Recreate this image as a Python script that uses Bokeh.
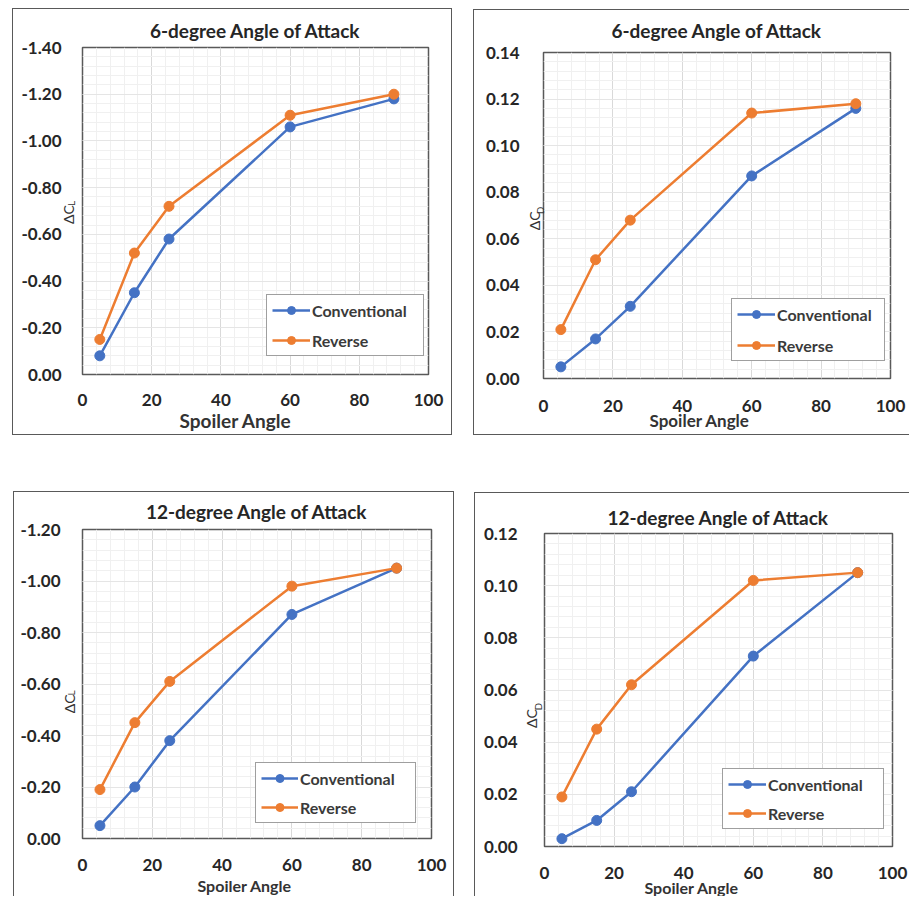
import numpy as np
from bokeh.plotting import figure
from bokeh.models import (Range1d, FixedTicker, NumeralTickFormatter, Title, Grid,
                          LinearAxis, Legend, LegendItem, Spacer)
from bokeh.layouts import column, row
from bokeh.embed import file_html
from bokeh.resources import INLINE

# ---------------- data ----------------
spoiler_angle = [5, 15, 25, 60, 90]
x_ticks = [0, 20, 40, 60, 80, 100]

cl6_conventional = [-0.08, -0.35, -0.58, -1.06, -1.18]
cl6_reverse = [-0.15, -0.52, -0.72, -1.11, -1.20]

cd6_conventional = [0.005, 0.017, 0.031, 0.087, 0.116]
cd6_reverse = [0.021, 0.051, 0.068, 0.114, 0.118]

cl12_conventional = [-0.05, -0.20, -0.38, -0.87, -1.05]
cl12_reverse = [-0.19, -0.45, -0.61, -0.98, -1.05]

cd12_conventional = [0.003, 0.010, 0.021, 0.073, 0.105]
cd12_reverse = [0.019, 0.045, 0.062, 0.102, 0.105]

series_names = ["Conventional", "Reverse"]
title_6 = "6-degree Angle of Attack"
title_12 = "12-degree Angle of Attack"
x_title = "Spoiler Angle"
y_title = "\u0394C"

BLUE = "#4472C4"
ORANGE = "#ED7D31"
FONT = "Lato"
TXT = "#262626"
NB = "\u00a0"


def quiet(ax):
    ax.axis_line_color = None
    ax.major_tick_line_color = None
    ax.minor_tick_line_color = None
    ax.major_tick_out = 0
    ax.minor_tick_out = 0
    ax.major_tick_in = 0
    ax.minor_tick_in = 0


def label_axis(text, size, standoff):
    ax = LinearAxis(ticker=FixedTicker(ticks=[], minor_ticks=[]),
                    axis_label=text, axis_label_standoff=standoff,
                    axis_label_text_font=FONT, axis_label_text_font_size=size,
                    axis_label_text_font_style="normal",
                    axis_label_text_color="#333333", major_label_standoff=0)
    quiet(ax)
    return ax


def make_panel(cfg):
    W, H = cfg["W"], cfg["H"]
    ml, mr, mt, mb = cfg["m"]
    y0, y1, ystep = cfg["yr"]
    p = figure(width=W, height=H, x_range=Range1d(0, 100), y_range=Range1d(y0, y1),
               y_axis_location=None,
               output_backend="svg", toolbar_location=None,
               min_border_left=ml, min_border_right=mr,
               min_border_top=mt, min_border_bottom=mb,
               background_fill_color="white", border_fill_color="white")
    p.styles = cfg["styles"]

    # ticks
    sgn = 1 if y1 > y0 else -1
    nmaj = int(round(abs(y1 - y0) / ystep))
    yt = [round(y0 + sgn * i * ystep, 4) for i in range(nmaj + 1)]
    ymin = [round(y0 + sgn * i * ystep / 5, 5) for i in range(nmaj * 5 + 1)]
    xmin = list(range(0, 101, 4))
    yticker = FixedTicker(ticks=yt, minor_ticks=ymin)
    p.xaxis.ticker = FixedTicker(ticks=x_ticks, minor_ticks=xmin)

    # y axis title: subscript nearest the frame, then "ΔC", then tick labels
    ya = cfg["yaxis"]
    p.add_layout(label_axis(ya["sub"], "10px", ya["sA"]), "left")
    p.add_layout(label_axis(ya["main"], "14px", ya["sB"]), "left")
    yaxis = LinearAxis(ticker=yticker, formatter=NumeralTickFormatter(format="0.00"),
                       major_label_standoff=ya["sC"])
    p.add_layout(yaxis, "left")
    p.add_layout(Grid(dimension=1, ticker=yticker))

    for ax in (p.xaxis[0], yaxis):
        quiet(ax)
        ax.major_label_text_font = FONT
        ax.major_label_text_font_style = "bold"
        ax.major_label_text_font_size = "17px"
        ax.major_label_text_color = TXT
    p.xaxis.major_label_standoff = cfg["xstand"]

    for g in (p.xgrid[0], p.ygrid[0]):
        g.grid_line_color = "#d9d9d9"
        g.grid_line_width = 1
        g.minor_grid_line_color = "#f0f0f0"
        g.minor_grid_line_width = 1

    p.outline_line_color = "#595959"
    p.outline_line_width = 1.5

    conv, rev = cfg["data"]
    l1 = p.line(spoiler_angle, conv, line_color=BLUE, line_width=2.5)
    s1 = p.scatter(spoiler_angle, conv, size=10, fill_color=BLUE, line_color=BLUE)
    l2 = p.line(spoiler_angle, rev, line_color=ORANGE, line_width=2.5)
    s2 = p.scatter(spoiler_angle, rev, size=10, fill_color=ORANGE, line_color=ORANGE)

    lg = cfg["legend"]
    legend = Legend(items=[LegendItem(label=series_names[0], renderers=[l1, s1]),
                           LegendItem(label=series_names[1], renderers=[l2, s2])],
                    location=lg["loc"], margin=0, padding=lg["pad"],
                    spacing=lg["spacing"], glyph_width=lg["gw"], glyph_height=20,
                    label_height=20, label_width=lg["lw"], label_standoff=2,
                    label_text_font=FONT, label_text_font_size="16px",
                    label_text_font_style="bold", label_text_color="#3a3a3a",
                    border_line_color="#404040", border_line_width=1.5,
                    background_fill_color="white", background_fill_alpha=1.0)
    p.add_layout(legend)

    # chart title above the frame
    p.add_layout(Title(text=cfg["title"], align="center", vertical_align=cfg["title_va"],
                       standoff=cfg["title_so"], text_font=FONT,
                       text_font_style="bold", text_font_size="19px",
                       text_color=TXT), "above")
    # x axis title below the tick labels
    p.add_layout(Title(text=x_title, align="left", offset=cfg["xlab_off"],
                       vertical_align="middle", standoff=cfg["xlab_so"],
                       text_font=FONT, text_font_style="bold",
                       text_font_size=cfg["xlab_size"], text_color="#333333"), "below")
    return p


BORDER = "1.5px solid #595959"

p1 = make_panel(dict(W=440, H=427, m=(69, 25, 38, 62), yr=(0, -1.4, 0.2),
                     styles={"border": BORDER},
                     xstand=19, data=(cl6_conventional, cl6_reverse),
                     yaxis=dict(sub=NB * 6 + "L", main=y_title + NB * 2, sA=6, sB=-15, sC=-5),
                     legend=dict(loc=(184, 18), pad=5, spacing=10, gw=38, lw=106),
                     title=title_6, title_va="middle", title_so=9, xlab_off=97, xlab_so=-1,
                     xlab_size="19px"))

p2 = make_panel(dict(W=436, H=426, m=(69, 20, 42, 58), yr=(0, 0.14, 0.02),
                     styles={"border-left": BORDER, "border-top": BORDER,
                             "border-bottom": BORDER},
                     xstand=21, data=(cd6_conventional, cd6_reverse),
                     yaxis=dict(sub=NB * 4 + "D", main=y_title + NB * 3, sA=-2, sB=-12, sC=3),
                     legend=dict(loc=(188, 17), pad=5, spacing=11, gw=38, lw=102),
                     title=title_6, title_va="top", title_so=17, xlab_off=106, xlab_so=-12,
                     xlab_size="17px"))

p3 = make_panel(dict(W=441, H=405, m=(68, 24, 37, 58), yr=(0, -1.2, 0.2),
                     styles={"border-left": BORDER, "border-top": BORDER,
                             "border-right": BORDER},
                     xstand=20, data=(cl12_conventional, cl12_reverse),
                     yaxis=dict(sub="L" + NB * 7, main=y_title + NB * 11, sA=6, sB=-16, sC=-3),
                     legend=dict(loc=(173, 15), pad=5, spacing=9, gw=37, lw=110),
                     title=title_12, title_va="middle", title_so=11, xlab_off=115, xlab_so=3,
                     xlab_size="16px"))

p4 = make_panel(dict(W=435, H=404, m=(69, 18, 40, 51), yr=(0, 0.12, 0.02),
                     styles={"border-left": BORDER, "border-top": BORDER},
                     xstand=20, data=(cd12_conventional, cd12_reverse),
                     yaxis=dict(sub="D" + NB * 13, main=y_title + NB * 16, sA=1, sB=-11, sC=2),
                     legend=dict(loc=(178, 17), pad=5, spacing=9, gw=38, lw=110),
                     title=title_12, title_va="middle", title_so=7, xlab_off=100, xlab_so=-9,
                     xlab_size="16px"))

top = row(Spacer(width=12, height=1), column(Spacer(width=1, height=8), p1),
          Spacer(width=21, height=1), column(Spacer(width=1, height=9), p2))
bottom = row(Spacer(width=13, height=1), p3,
             Spacer(width=20, height=1), column(Spacer(width=1, height=1), p4))
layout = column(top, Spacer(width=1, height=56), bottom)

open("out.html", "w").write(file_html(layout, INLINE))
